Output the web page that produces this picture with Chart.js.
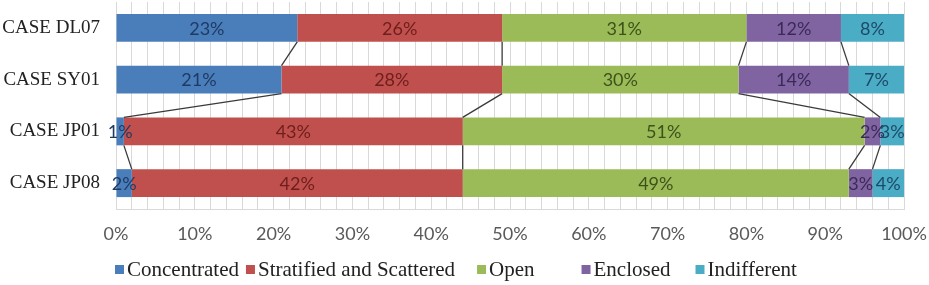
<!DOCTYPE html>
<html>
<head>
<meta charset="utf-8">
<script src="https://cdn.jsdelivr.net/npm/chart.js@4.4.1/dist/chart.umd.min.js"></script>
<style>
html,body{margin:0;padding:0;background:#fff;}
#wrap{width:929px;height:285px;position:relative;}
</style>
</head>
<body>
<div id="wrap"><canvas id="c" width="929" height="285"></canvas></div>
<script>
const categories = ['CASE DL07', 'CASE SY01', 'CASE JP01', 'CASE JP08'];
const concentrated = [23, 21, 1, 2];
const stratified = [26, 28, 43, 42];
const openSpace = [31, 30, 51, 49];
const enclosed = [12, 14, 2, 3];
const indifferent = [8, 7, 3, 4];
const seriesNames = ['Concentrated', 'Stratified and Scattered', 'Open', 'Enclosed', 'Indifferent'];
const xTicks = [0, 10, 20, 30, 40, 50, 60, 70, 80, 90, 100];

const colors = ['#4a7ebb', '#c0504d', '#9bbb59', '#8064a2', '#4bacc6'];
const labelColors = ['#1f3a63', '#6e1e1c', '#3d5219', '#3b2a58', '#1d4a66'];
const seriesValues = [concentrated, stratified, openSpace, enclosed, indifferent];
// gaps after each legend text (layout only)
const legendGaps = [7, 22, 47, 25];

const datasets = seriesValues.map((vals, i) => ({
  label: seriesNames[i],
  data: vals,
  backgroundColor: colors[i],
  borderWidth: 0,
  barPercentage: 0.54,
  categoryPercentage: 1.0
}));

const seriesLinesPlugin = {
  id: 'seriesLines',
  afterDatasetsDraw(chart) {
    const ctx = chart.ctx;
    ctx.save();
    ctx.strokeStyle = '#3a3a3a';
    ctx.lineWidth = 1.3;
    for (let d = 0; d < datasets.length - 1; d++) {
      const meta = chart.getDatasetMeta(d);
      for (let i = 0; i < categories.length - 1; i++) {
        const a = meta.data[i], b = meta.data[i + 1];
        ctx.beginPath();
        ctx.moveTo(a.x, a.y + a.height / 2);
        ctx.lineTo(b.x, b.y - b.height / 2);
        ctx.stroke();
      }
    }
    ctx.restore();
  }
};

const dataLabelPlugin = {
  id: 'dataLabels',
  afterDatasetsDraw(chart) {
    const ctx = chart.ctx;
    ctx.save();
    ctx.font = '18px Lato, "Open Sans", sans-serif';
    ctx.textAlign = 'center';
    ctx.textBaseline = 'middle';
    chart.data.datasets.forEach((ds, d) => {
      const meta = chart.getDatasetMeta(d);
      meta.data.forEach((el, i) => {
        const cx = (el.x + el.base) / 2;
        ctx.fillStyle = labelColors[d];
        ctx.fillText(ds.data[i] + '%', cx, el.y + 1);
      });
    });
    ctx.restore();
  }
};

const legendPlugin = {
  id: 'customLegend',
  afterDraw(chart) {
    const ctx = chart.ctx;
    ctx.save();
    ctx.font = '21px "Liberation Serif", "Times New Roman", serif';
    ctx.textBaseline = 'middle';
    ctx.textAlign = 'left';
    const y = 270;
    let x = chart.chartArea.left - 1;
    chart.data.datasets.forEach((ds, i) => {
      ctx.fillStyle = ds.backgroundColor;
      ctx.fillRect(x, y - 5, 9, 9);
      ctx.fillStyle = '#222';
      ctx.fillText(ds.label, x + 12, y);
      x += 12 + ctx.measureText(ds.label).width + (legendGaps[i] || 0);
    });
    ctx.restore();
  }
};

new Chart(document.getElementById('c'), {
  type: 'bar',
  data: { labels: categories, datasets },
  options: {
    indexAxis: 'y',
    responsive: false,
    animation: false,
    layout: { padding: { top: 2, right: 25, left: 0, bottom: 36 } },
    scales: {
      x: {
        stacked: true,
        min: 0,
        max: 100,
        ticks: {
          stepSize: 2,
          autoSkip: false,
          maxRotation: 0,
          padding: 14,
          color: '#595959',
          font: { family: 'Lato, "Open Sans", sans-serif', size: 18 },
          callback: (v) => (xTicks.includes(v) ? v + '%' : '')
        },
        grid: { color: '#d9d9d9', drawTicks: false, lineWidth: 1 },
        border: { color: '#d9d9d9' },
        afterFit(scale) { scale.height = 40; scale.paddingLeft = 0; scale.paddingRight = 0; }
      },
      y: {
        stacked: true,
        ticks: {
          padding: 8,
          color: '#222',
          font: { family: '"Liberation Serif", "Times New Roman", serif', size: 19 }
        },
        grid: { display: false },
        border: { display: false },
        afterFit(scale) { scale.width = 116; scale.paddingTop = 0; scale.paddingBottom = 0; }
      }
    },
    plugins: {
      legend: { display: false },
      tooltip: { enabled: false }
    }
  },
  plugins: [seriesLinesPlugin, dataLabelPlugin, legendPlugin]
});
</script>
</body>
</html>
